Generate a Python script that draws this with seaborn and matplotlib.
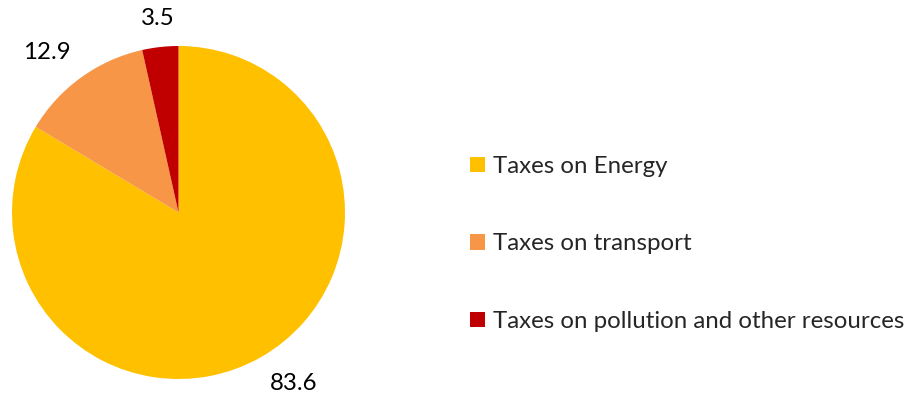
import matplotlib
matplotlib.use("Agg")
import matplotlib.pyplot as plt
from matplotlib.patches import Patch
import numpy as np
import seaborn as sns

categories = ["Taxes on Energy", "Taxes on transport", "Taxes on pollution and other resources"]
shares = [83.6, 12.9, 3.5]
value_labels = ["83.6", "12.9", "3.5"]
colors = ["#FFC000", "#F79646", "#C00000"]

sns.set_theme(style="white")
plt.rcParams["font.family"] = ["Lato", "DejaVu Sans"]
FS = 17.3

W, H = 908, 394
fig = plt.figure(figsize=(W / 100, H / 100), dpi=100)

# pie area: bounding box of the disc in pixels
px_left, px_top, px_size = 12, 46, 333
ax = fig.add_axes([px_left / W, (H - px_top - px_size) / H, px_size / W, px_size / H])
wedges, _ = ax.pie(
    shares,
    colors=colors,
    startangle=90,
    counterclock=False,
    wedgeprops=dict(linewidth=0),
)

# value labels just outside each wedge, aligned away from the disc
label_radius = 1.11
for w, txt in zip(wedges, value_labels):
    mid = np.deg2rad((w.theta1 + w.theta2) / 2)
    c, s = np.cos(mid), np.sin(mid)
    ha = "left" if c > 0.3 else ("right" if c < -0.3 else "center")
    va = "bottom" if s > 0.3 else ("top" if s < -0.3 else "center")
    ax.text(label_radius * c, label_radius * s, txt, ha=ha, va=va,
            fontsize=FS, color="#000000", clip_on=False)

ax.set_xlim(-1, 1)
ax.set_ylim(-1, 1)
ax.set_aspect("equal")
ax.axis("off")

handles = [Patch(facecolor=c, edgecolor="none") for c in colors]
fig.legend(
    handles,
    categories,
    loc="center left",
    bbox_to_anchor=(470 / W, (H - 244) / H),
    frameon=False,
    fontsize=FS,
    handlelength=0.625,
    handleheight=0.625,
    handletextpad=0.33,
    labelspacing=2.35,
    borderpad=0,
    borderaxespad=0,
)

fig.savefig("out.png", dpi=100, facecolor="white")
